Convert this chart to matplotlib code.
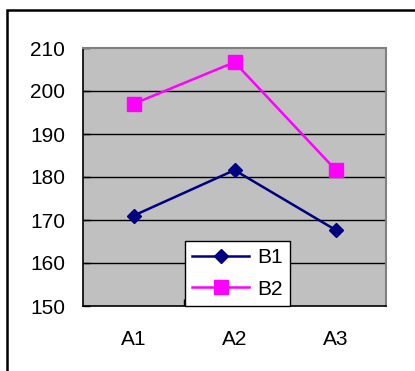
import matplotlib
matplotlib.use("Agg")
import matplotlib.pyplot as plt
from matplotlib.patches import Rectangle

categories = ["A1", "A2", "A3"]
b1 = [171, 181.6, 167.7]
b2 = [197, 206.7, 181.7]
yticks = [150, 160, 170, 180, 190, 200, 210]

plt.rcParams['font.family'] = ['Liberation Sans', 'DejaVu Sans']

fig = plt.figure(figsize=(4.15, 3.71), dpi=100)
fig.patch.set_facecolor('white')
ax = fig.add_axes([83/415, 1-306/371, 303/415, 258/371])
ax.set_facecolor('#C0C0C0')

x = list(range(len(categories)))
for y in yticks[1:-1]:
    ax.axhline(y, color='black', lw=1.0, zorder=1)
ax.plot(x, b1, color='#000080', lw=1.8, marker='D', markersize=7, label='B1', zorder=3)
ax.plot(x, b2, color='#FF00FF', lw=1.8, marker='s', markersize=10, label='B2', zorder=3)

ax.set_xlim(-0.5, 2.5)
ax.set_ylim(150, 210)
ax.set_yticks(yticks)
ax.set_xticks(x)
ax.set_xticklabels(categories)
ax.tick_params(axis='y', direction='in', length=5, width=1, labelsize=15, pad=13)
ax.tick_params(axis='x', length=0, labelsize=15, pad=17)
ax.set_xticks([0.5, 1.5], minor=True)
ax.tick_params(axis='x', which='minor', direction='in', length=5, width=1)

for s in ['left', 'bottom']:
    ax.spines[s].set_color('black')
    ax.spines[s].set_linewidth(1.2)
for s in ['top', 'right']:
    ax.spines[s].set_color('#808080')
    ax.spines[s].set_linewidth(1.5)

leg = ax.legend(loc='lower left', bbox_to_anchor=(0.337, 0.0), borderaxespad=0,
                fontsize=15, frameon=True, fancybox=False, edgecolor='black',
                framealpha=1, facecolor='white', handlelength=2.7, handletextpad=0.4,
                borderpad=0.35, labelspacing=0.6)
leg.get_frame().set_linewidth(1.0)
leg.set_zorder(5)

fig.add_artist(Rectangle((7/415, -0.1), 1.2, 1 - 10/371 + 0.1, transform=fig.transFigure,
                         fill=False, edgecolor='black', linewidth=1.8))

fig.savefig('out.png', dpi=100)
